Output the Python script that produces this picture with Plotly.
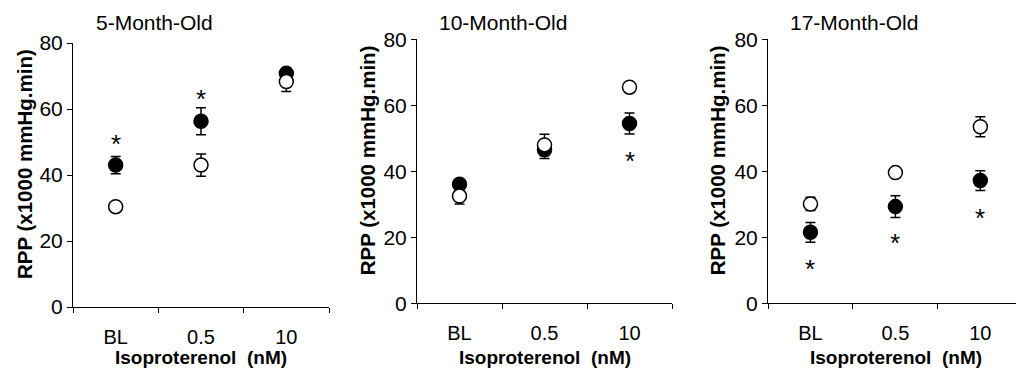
import plotly.graph_objects as go

categories = ["BL", "0.5", "10"]
titles = ["5-Month-Old", "10-Month-Old", "17-Month-Old"]

filled_5 = [43.0, 56.3, 70.8]
filled_5_err = [2.6, 4.1, 1.6]
open_5 = [30.4, 43.0, 68.3]
open_5_err = [1.2, 3.4, 3.0]
star_5 = [51.2, 64.7, None]

filled_10 = [36.1, 46.5, 54.5]
filled_10_err = [1.2, 2.6, 3.2]
open_10 = [32.5, 48.0, 65.5]
open_10_err = [2.4, 3.2, 1.2]
star_10 = [None, None, 44.9]

filled_17 = [21.5, 29.3, 37.2]
filled_17_err = [3.0, 3.3, 3.0]
open_17 = [30.1, 39.6, 53.5]
open_17_err = [2.0, 1.2, 3.0]
star_17 = [12.1, 20.2, 27.8]

panels = [
    (filled_5, filled_5_err, open_5, open_5_err, star_5),
    (filled_10, filled_10_err, open_10, open_10_err, star_10),
    (filled_17, filled_17_err, open_17, open_17_err, star_17),
]

W, H = 1016, 374
FONT = "Arial, Liberation Sans, sans-serif"

# pixel layout (left, right, top(80), bottom(0))
boxes = [(73, 329, 43, 307), (417, 672, 39.3, 303.3), (768, 1016, 39.3, 303.3)]
xranges = [[-0.5, 2.5], [-0.5, 2.5], [-0.5, 2.42]]
title_x = [154, 503, 854]
title_y = 22
ytitle_x = [24, 367, 717]
xtitle_y = 357

fig = go.Figure()
layout = dict(
    template="none",
    width=W, height=H, margin=dict(l=0, r=0, t=0, b=0, pad=0, autoexpand=False),
    paper_bgcolor="white", plot_bgcolor="white", showlegend=False,
    font=dict(family=FONT, color="black"),
)
annotations = []

for i, (fv, fe, ov, oe, st) in enumerate(panels):
    n = "" if i == 0 else str(i + 1)
    xa, ya = "x" + n, "y" + n
    l, r, t, b = boxes[i]
    layout["xaxis" + n] = dict(
        domain=[l / W, r / W], range=xranges[i], type="category",
        categoryorder="array", categoryarray=categories,
        tickson="boundaries", ticks="outside", ticklen=5, tickwidth=1, tickcolor="black",
        showline=True, linecolor="black", linewidth=1, showgrid=False, zeroline=False,
        tickfont=dict(size=20, family=FONT, color="black"), ticklabelstandoff=12,
        anchor=ya, fixedrange=True, automargin=False,
    )
    layout["yaxis" + n] = dict(
        domain=[1 - b / H, 1 - t / H], range=[0, 80], tickvals=[0, 20, 40, 60, 80],
        ticks="outside", ticklen=5, tickwidth=1, tickcolor="black",
        showline=True, linecolor="black", linewidth=1, showgrid=False, zeroline=False,
        tickfont=dict(size=21, family=FONT, color="black"),
        anchor=xa, fixedrange=True, automargin=False,
    )
    fig.add_trace(go.Scatter(
        x=categories, y=fv, mode="markers", xaxis=xa, yaxis=ya,
        marker=dict(symbol="circle", size=14, color="black", line=dict(color="black", width=1.5)),
        error_y=dict(type="data", array=fe, visible=True, color="black", thickness=1.5, width=5),
    ))
    fig.add_trace(go.Scatter(
        x=categories, y=ov, mode="markers", xaxis=xa, yaxis=ya,
        marker=dict(symbol="circle", size=14, color="white", line=dict(color="black", width=1.5)),
        error_y=dict(type="data", array=oe, visible=True, color="black", thickness=1.5, width=5),
    ))
    for k, s in enumerate(st):
        if s is None:
            continue
        annotations.append(dict(
            text="*", xref=xa, yref=ya, x=k, y=s, showarrow=False, yshift=-6,
            xanchor="center", yanchor="middle",
            font=dict(size=26, family=FONT, color="black"),
        ))
    annotations.append(dict(
        text=titles[i], xref="paper", yref="paper", x=title_x[i] / W, y=1 - title_y / H,
        xanchor="center", yanchor="middle", showarrow=False,
        font=dict(size=21, family=FONT, color="black"),
    ))
    annotations.append(dict(
        text="<b>RPP (x1000 mmHg.min)</b>", xref="paper", yref="paper",
        x=ytitle_x[i] / W, y=1 - ((t + b) / 2 - 11) / H, textangle=-90,
        xanchor="center", yanchor="middle", showarrow=False,
        font=dict(size=20.5, family=FONT, color="black"),
    ))
    annotations.append(dict(
        text="<b>Isoproterenol  (nM)</b>", xref="paper", yref="paper",
        x=(l + 85 * 1.5) / W, y=1 - xtitle_y / H,
        xanchor="center", yanchor="middle", showarrow=False,
        font=dict(size=19, family=FONT, color="black"),
    ))

layout["annotations"] = annotations
fig.update_layout(**layout)
fig.write_html("out.html", config={"displayModeBar": False, "staticPlot": True},
               post_script="document.body.style.margin='0';")
